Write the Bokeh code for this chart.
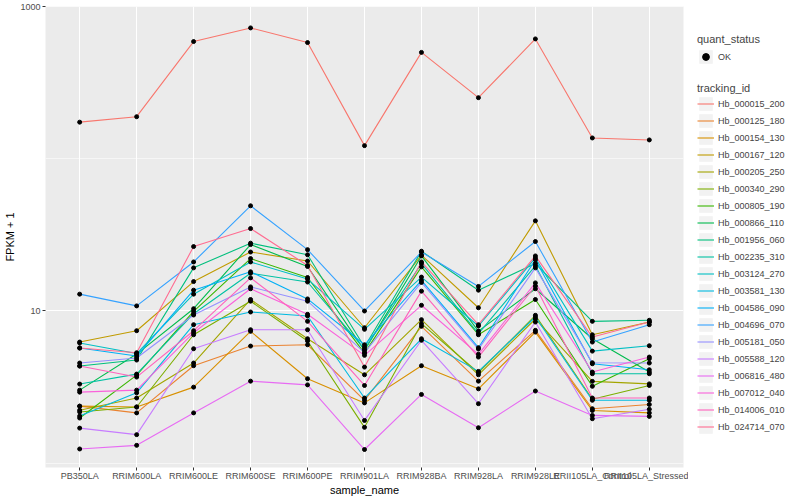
from bokeh.plotting import figure
from bokeh.layouts import row
from bokeh.models import (FactorRange, Range1d, FixedTicker, PrintfTickFormatter, Legend,
                          LegendItem)
from bokeh.embed import file_html
from bokeh.resources import INLINE

samples = ["PB350LA", "RRIM600LA", "RRIM600LE", "RRIM600SE", "RRIM600PE", "RRIM901LA",
           "RRIM928BA", "RRIM928LA", "RRIM928LE", "RRII105LA_Control", "RRII105LA_Stressed"]

tracking_ids = ["Hb_000015_200", "Hb_000125_180", "Hb_000154_130", "Hb_000167_120",
                "Hb_000205_250", "Hb_000340_290", "Hb_000805_190", "Hb_000866_110",
                "Hb_001956_060", "Hb_002235_310", "Hb_003124_270", "Hb_003581_130",
                "Hb_004586_090", "Hb_004696_070", "Hb_005181_050", "Hb_005588_120",
                "Hb_006816_480", "Hb_007012_040", "Hb_014006_010", "Hb_024714_070"]

# FPKM + 1 per sample
hb_000015_200 = [174, 189, 589, 724, 580, 122, 500, 252, 613, 137, 133]
hb_000125_180 = [2.37, 2.14, 4.37, 5.88, 6.00, 2.59, 7.93, 3.46, 7.46, 2.28, 2.43]
hb_000154_130 = [2.37, 2.34, 3.16, 7.35, 3.59, 2.49, 4.37, 3.08, 7.27, 2.22, 2.14]
hb_000167_120 = [6.25, 7.42, 15.6, 24.4, 21.3, 7.76, 23.3, 10.5, 39.1, 6.98, 8.46]
hb_000205_250 = [2.23, 2.68, 4.55, 11.9, 6.57, 3.81, 8.77, 3.81, 8.86, 3.45, 3.32]
hb_000340_290 = [2.17, 2.34, 6.98, 11.6, 6.35, 1.72, 8.25, 3.93, 9.37, 2.63, 3.24]
hb_000805_190 = [1.98, 3.79, 9.95, 22.1, 16.6, 5.29, 19.5, 6.98, 11.9, 3.20, 4.86]
hb_000866_110 = [3.02, 5.21, 10.35, 27.3, 19.6, 5.51, 23.0, 7.38, 14.0, 6.57, 3.97]
hb_001956_060 = [4.35, 4.76, 19.2, 27.9, 23.4, 5.80, 24.7, 13.7, 20.5, 8.55, 8.69]
hb_002235_310 = [3.31, 3.85, 9.60, 17.7, 15.5, 5.62, 20.5, 7.09, 19.8, 3.87, 3.87]
hb_003124_270 = [6.16, 5.25, 12.9, 21.0, 16.2, 7.58, 16.7, 7.97, 22.3, 5.45, 5.91]
hb_003581_130 = [2.04, 2.90, 8.13, 9.85, 9.27, 2.68, 6.57, 4.01, 9.13, 2.59, 2.59]
hb_004586_090 = [5.71, 5.06, 13.7, 18.1, 12.0, 6.00, 15.9, 5.74, 21.7, 4.50, 4.11]
hb_004696_070 = [12.9, 10.8, 21.0, 49.1, 25.3, 10.0, 24.4, 14.5, 28.6, 6.25, 8.13]
hb_005181_050 = [4.55, 4.91, 9.41, 14.4, 11.6, 5.32, 15.4, 5.62, 19.2, 4.57, 4.55]
hb_005588_120 = [1.70, 1.54, 5.65, 7.53, 7.53, 1.91, 6.42, 2.46, 8.46, 1.96, 2.26]
hb_006816_480 = [1.24, 1.31, 2.14, 3.46, 3.27, 1.23, 2.83, 1.71, 2.98, 2.06, 2.03]
hb_007012_040 = [2.93, 3.02, 7.20, 14.0, 9.51, 5.11, 10.9, 5.19, 15.3, 3.97, 4.98]
hb_014006_010 = [4.35, 3.68, 7.42, 16.5, 8.55, 3.24, 13.5, 4.98, 14.6, 2.68, 2.68]
hb_024714_070 = [5.71, 5.32, 26.5, 34.8, 19.9, 4.28, 21.0, 8.13, 23.0, 6.74, 8.46]

series_values = [hb_000015_200, hb_000125_180, hb_000154_130, hb_000167_120, hb_000205_250,
                 hb_000340_290, hb_000805_190, hb_000866_110, hb_001956_060, hb_002235_310,
                 hb_003124_270, hb_003581_130, hb_004586_090, hb_004696_070, hb_005181_050,
                 hb_005588_120, hb_006816_480, hb_007012_040, hb_014006_010, hb_024714_070]

quant_status = "OK"

palette = ["#F8766D", "#EA8331", "#D89000", "#C09B00", "#A3A500", "#7CAE00", "#39B600",
           "#00BB4E", "#00BF7D", "#00C1A3", "#00BFC4", "#00BAE0", "#00B0F6", "#35A2FF",
           "#9590FF", "#C77CFF", "#E76BF3", "#FA62DB", "#FF62BC", "#FF6C91"]

FONT = "Liberation Sans"
H = 498

p = figure(width=688, height=H,
           x_range=FactorRange(factors=samples, range_padding=0.1, range_padding_units="absolute"),
           y_range=Range1d(0.937, 1001), y_axis_type="log",
           output_backend="svg", toolbar_location=None,
           background_fill_color="#EBEBEB", border_fill_color="white", outline_line_color=None,
           min_border_left=45, min_border_right=5, min_border_top=6, min_border_bottom=0,
           x_axis_label="sample_name", y_axis_label="FPKM + 1")

ticker = FixedTicker(ticks=[10, 1000], minor_ticks=[1, 100])
p.yaxis.ticker = ticker
p.ygrid.ticker = ticker
p.yaxis.formatter = PrintfTickFormatter(format="%d")

p.xgrid.grid_line_color = "white"
p.xgrid.grid_line_width = 1.1
p.ygrid.grid_line_color = "white"
p.ygrid.grid_line_width = 1.1
p.ygrid.minor_grid_line_color = "white"
p.ygrid.minor_grid_line_width = 0.55

for ax in (p.xaxis, p.yaxis):
    ax.axis_line_color = None
    ax.major_tick_line_color = "#333333"
    ax.major_tick_in = 0
    ax.major_tick_out = 3
    ax.minor_tick_line_color = None
    ax.major_label_text_color = "#4D4D4D"
    ax.major_label_text_font = FONT
    ax.major_label_text_font_size = "9px"
    ax.major_label_text_line_height = 1.0
    ax.major_label_standoff = 0
    ax.axis_label_text_font = FONT
    ax.axis_label_text_font_size = "11px"
    ax.axis_label_text_font_style = "normal"
    ax.axis_label_text_color = "black"
    ax.axis_label_text_line_height = 1.0
    ax.axis_label_standoff = 0
p.yaxis.major_label_standoff = 1
p.yaxis.axis_label_standoff = 1

line_renderers = []
for vals, col in zip(series_values, palette):
    r = p.line(x=samples, y=vals, line_color=col, line_width=1.1)
    line_renderers.append(r)

for vals in series_values:
    p.scatter(x=samples, y=vals, marker="circle", size=4, fill_color="black", line_color="black")

# legend panel (key glyphs only; their renderers sit outside the visible range)
lf = figure(width=110, height=H, x_range=Range1d(0, 1), y_range=Range1d(0, 1),
            output_backend="svg", toolbar_location=None, x_axis_location=None,
            y_axis_location=None, min_border=0, outline_line_color=None,
            background_fill_color="white", border_fill_color="white")
lf.grid.visible = False

hidden = [5, 6]
key_bg = lf.quad(left=[5], right=[6], bottom=[5], top=[6], fill_color="#F2F2F2", line_color=None)
key_lines = [lf.line(x=hidden, y=hidden, line_color=col, line_width=1.1) for col in palette]
key_point = lf.scatter(x=hidden, y=hidden, marker="circle", size=4,
                       fill_color="black", line_color="black")


def style_legend(leg):
    leg.glyph_width = 17
    leg.glyph_height = 17
    leg.label_height = 17
    leg.spacing = 0
    leg.padding = 0
    leg.margin = 0
    leg.label_standoff = 4
    leg.border_line_color = None
    leg.background_fill_alpha = 0
    leg.label_text_font = FONT
    leg.label_text_font_size = "9px"
    leg.title_text_font = FONT
    leg.title_text_font_size = "11px"
    leg.title_text_font_style = "normal"
    leg.title_standoff = 3


leg_q = Legend(items=[LegendItem(label=quant_status, renderers=[key_bg, key_point])],
               title="quant_status", location=(9, 402))
style_legend(leg_q)
leg_t = Legend(items=[LegendItem(label=tid, renderers=[key_bg, r])
                      for tid, r in zip(tracking_ids, key_lines)],
               title="tracking_id", location=(9, 32))
style_legend(leg_t)
leg_t.title_standoff = 1
lf.add_layout(leg_q, "center")
lf.add_layout(leg_t, "center")

layout = row(p, lf, spacing=0)
open("out.html", "w").write(file_html(layout, INLINE))
